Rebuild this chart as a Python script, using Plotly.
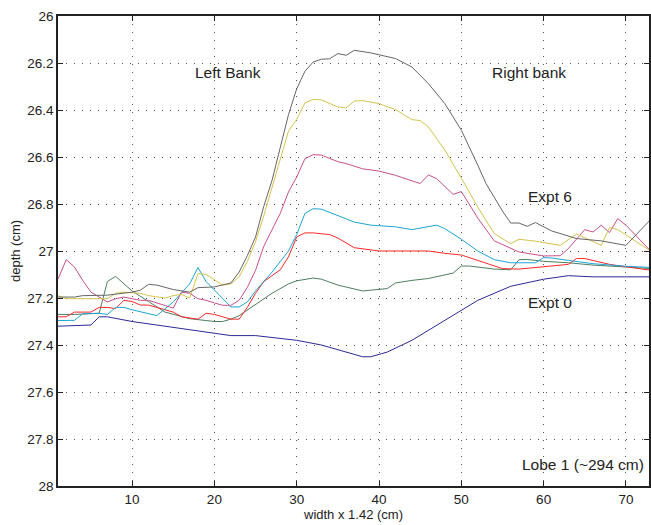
import plotly.graph_objects as go

# Expt 0 (navy)
x0 = [1,5,6,7,10,15,20,22,25,30,33,36,38,39,41,44,48,52,56,60,63,66,70,73]
y0 = [27.32,27.315,27.28,27.28,27.30,27.325,27.35,27.36,27.36,27.38,27.40,27.43,27.45,27.45,27.43,27.38,27.295,27.21,27.15,27.12,27.105,27.11,27.11,27.11]

# Expt 1 (green)
x1 = [1,3,6,7,8,10,12,14,17,20,21,22,23,25,27,29,30,32,33,35,38,41,42,44,46,49,50,51,54,56,57,58,60,63,66,70,73]
y1 = [27.27,27.27,27.265,27.13,27.108,27.17,27.215,27.26,27.288,27.30,27.30,27.29,27.275,27.227,27.18,27.14,27.127,27.115,27.12,27.145,27.17,27.16,27.136,27.125,27.117,27.094,27.064,27.064,27.077,27.08,27.037,27.036,27.044,27.05,27.06,27.068,27.075]

# Expt 2 (red)
x2 = [1,2,3,5,6,7,8,9,10,11,12,14,15,16,18,19,20,21,22,23,24,25,26,28,29,30,31,32,33,34,35,37,40,46,48,50,52,55,57,63,64,65,68,70,73]
y2 = [27.28,27.28,27.26,27.26,27.24,27.24,27.245,27.21,27.215,27.23,27.23,27.25,27.26,27.28,27.29,27.265,27.27,27.28,27.29,27.29,27.24,27.18,27.13,27.08,27.025,26.94,26.923,26.923,26.925,26.93,26.945,26.986,27.0,27.0,27.01,27.017,27.04,27.075,27.077,27.057,27.032,27.032,27.057,27.068,27.082]

# Expt 3 (cyan)
x3 = [1,3,4,6,7,8,9,10,13,15,17,18,19,21,22,23,24,25,27,29,30,31,32,33,35,37,39,42,44,46,47,48,50,52,54,56,59,60,61,63,66,70,73]
y3 = [27.296,27.295,27.267,27.265,27.27,27.24,27.24,27.25,27.275,27.217,27.14,27.07,27.13,27.2,27.238,27.238,27.217,27.17,27.09,27.0,26.93,26.84,26.82,26.822,26.85,26.877,26.89,26.897,26.909,26.897,26.89,26.905,26.95,27.0,27.037,27.05,27.05,27.028,27.03,27.04,27.054,27.065,27.07]

# Expt 4 (magenta)
x4 = [1,2,3,4,5,7,8,9,10,11,12,13,15,16,17,18,19,20,21,22,23,24,25,26,28,29,30,31,32,33,35,36,38,40,42,45,46,47,49,50,52,54,57,60,62,63,65,66,67,68,69,70,73]
y4 = [27.12,27.037,27.068,27.125,27.175,27.217,27.203,27.196,27.203,27.21,27.21,27.221,27.243,27.175,27.18,27.203,27.21,27.221,27.231,27.231,27.21,27.155,27.082,26.98,26.84,26.749,26.685,26.607,26.59,26.592,26.62,26.628,26.65,26.66,26.678,26.713,26.676,26.692,26.759,26.747,26.86,26.957,27.004,27.021,27.02,26.99,26.909,26.919,26.89,26.922,26.862,26.89,27.0]

# Expt 5 (yellow)
x5 = [1,2,7,8,9,11,12,14,15,16,17,18,19,21,22,23,24,25,26,27,28,29,30,31,32,33,35,36,37,38,40,42,44,45,46,48,50,52,54,56,57,59,62,64,67,68,69,73]
y5 = [27.19,27.203,27.203,27.18,27.175,27.18,27.19,27.2,27.19,27.185,27.2,27.096,27.1,27.145,27.14,27.11,27.045,26.96,26.85,26.73,26.60,26.49,26.44,26.37,26.355,26.357,26.387,26.391,26.362,26.36,26.373,26.398,26.441,26.445,26.472,26.571,26.69,26.813,26.926,26.969,26.95,26.958,26.976,26.928,26.976,26.9,26.909,27.0]

# Expt 6 (gray)
x6 = [1,3,4,7,10,11,12,13,15,17,18,20,22,23,24,25,26,27,28,29,30,31,32,33,34,35,36,37,39,42,44,46,48,50,52,53,55,56,57,58,59,61,64,67,70,73]
y6 = [27.196,27.196,27.19,27.188,27.175,27.167,27.142,27.145,27.164,27.175,27.156,27.153,27.136,27.09,27.02,26.94,26.81,26.70,26.56,26.42,26.31,26.235,26.196,26.184,26.182,26.16,26.167,26.146,26.157,26.181,26.217,26.288,26.373,26.486,26.635,26.713,26.83,26.881,26.881,26.895,26.879,26.915,26.947,26.957,26.976,26.866]

series = [
    (x0, y0, "#2b2b96"),
    (x1, y1, "#4e7e60"),
    (x2, y2, "#fa2828"),
    (x3, y3, "#1ea5d6"),
    (x4, y4, "#c8508c"),
    (x5, y5, "#d4c44e"),
    (x6, y6, "#666666"),
]

y_ticks = [26, 26.2, 26.4, 26.6, 26.8, 27, 27.2, 27.4, 27.6, 27.8, 28]
y_tick_labels = ["26", "26.2", "26.4", "26.6", "26.8", "27", "27.2", "27.4", "27.6", "27.8", "28"]
x_ticks = [10, 20, 30, 40, 50, 60, 70]

notes = [
    (21.6, 26.24, "Left Bank"),
    (58.2, 26.24, "Right bank"),
    (60.8, 26.77, "Expt 6"),
    (60.8, 27.22, "Expt 0"),
    (64.8, 27.91, "Lobe 1 (~294 cm)"),
]

fig = go.Figure()
for xs, ys, c in series:
    fig.add_trace(go.Scatter(x=xs, y=ys, mode="lines", line=dict(color=c, width=1), showlegend=False))

for nx, ny, t in notes:
    fig.add_annotation(x=nx, y=ny, text=t, showarrow=False, font=dict(size=15.5, color="#222222"))

font_family = "Liberation Sans, Arial, sans-serif"
fig.update_layout(
    width=651, height=525,
    margin=dict(l=58, r=0, t=16, b=39),
    paper_bgcolor="white", plot_bgcolor="white",
    font=dict(family=font_family, size=13, color="#222222"),
    xaxis=dict(
        range=[1, 72.8], tickvals=x_ticks, ticks="inside", ticklen=5, tickcolor="#222",
        showline=True, linecolor="#222", linewidth=1.5, mirror="ticks",
        showgrid=True, gridcolor="#555", griddash="1px,7px", gridwidth=1,
        zeroline=False,
        title=dict(text="width x 1.42 (cm)", font=dict(size=13), standoff=3),
        tickfont=dict(size=13.5),
    ),
    yaxis=dict(
        range=[28, 26], tickvals=y_ticks, ticktext=y_tick_labels, ticks="inside", ticklen=5, tickcolor="#222",
        showline=True, linecolor="#222", linewidth=1.5, mirror="ticks",
        showgrid=True, gridcolor="#555", griddash="1px,7px", gridwidth=1,
        zeroline=False,
        title=dict(text="depth (cm)", font=dict(size=13), standoff=4),
        tickfont=dict(size=13.5),
    ),
)

fig.write_html("out.html")
